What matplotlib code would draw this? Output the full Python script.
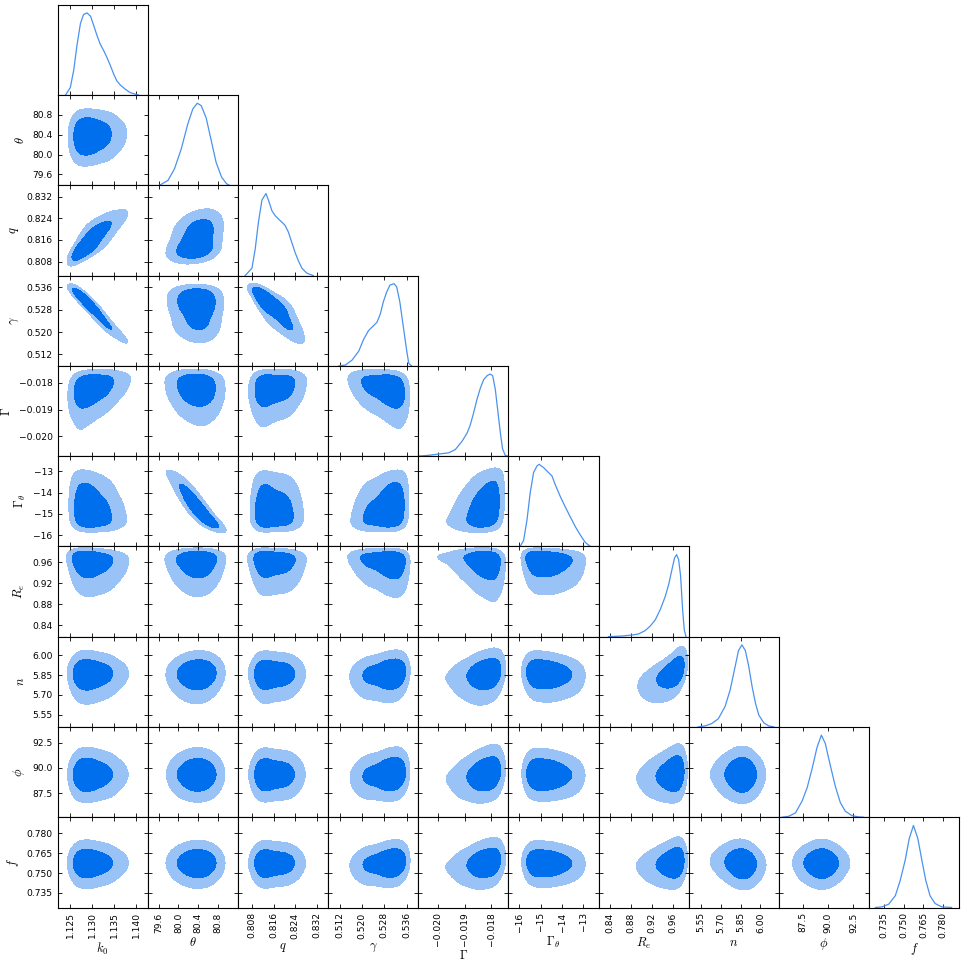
import numpy as np
import matplotlib
matplotlib.use("Agg")
import matplotlib.pyplot as plt

plt.rcParams['mathtext.fontset'] = 'cm'
plt.rcParams['font.family'] = ['DejaVu Sans']

# 1D marginal curves (x value, relative density)
k0_x = [1.1239, 1.1250, 1.1258, 1.1265, 1.1273, 1.1280, 1.1288, 1.1296, 1.1303, 1.1311, 1.1318,
        1.1326, 1.1333, 1.1341, 1.1349, 1.1356, 1.1364, 1.1375, 1.1386, 1.1398, 1.1405]
k0_p = [0.0, 0.09, 0.31, 0.60, 0.87, 0.98, 1.0, 0.96, 0.85, 0.72, 0.62,
        0.54, 0.46, 0.36, 0.25, 0.17, 0.12, 0.07, 0.03, 0.01, 0.0]
theta_x = [79.62, 79.79, 79.92, 80.06, 80.19, 80.29, 80.38, 80.46, 80.56, 80.66, 80.76, 80.87, 80.97, 81.03]
theta_p = [0.0, 0.06, 0.2, 0.45, 0.75, 0.93, 1.0, 0.97, 0.82, 0.55, 0.28, 0.1, 0.02, 0.0]
q_x = [0.8055, 0.8080, 0.8092, 0.8104, 0.8117, 0.8132, 0.8141, 0.8154, 0.8166, 0.8178, 0.8191,
       0.8203, 0.8215, 0.8228, 0.8240, 0.8252, 0.8265, 0.8283, 0.8307]
q_p = [0.0, 0.09, 0.32, 0.65, 0.92, 1.0, 0.92, 0.79, 0.73, 0.69, 0.65,
       0.61, 0.53, 0.40, 0.28, 0.18, 0.09, 0.03, 0.0]
gam_x = [0.5118, 0.5141, 0.5165, 0.5189, 0.5206, 0.5224, 0.5242, 0.5254, 0.5266, 0.5277, 0.5289,
         0.5301, 0.5316, 0.5325, 0.5336, 0.5348, 0.5360, 0.5368, 0.5378]
gam_p = [0.0, 0.01, 0.07, 0.18, 0.32, 0.43, 0.49, 0.53, 0.63, 0.78, 0.90,
         0.985, 1.0, 0.96, 0.78, 0.49, 0.20, 0.03, 0.0]
Gam_x = [-0.02073, -0.02035, -0.01998, -0.01960, -0.01935, -0.01910, -0.01891, -0.01879, -0.01867,
         -0.01854, -0.01841, -0.01829, -0.01816, -0.01804, -0.01795, -0.01785, -0.01775, -0.01766,
         -0.01758, -0.01748, -0.01740]
Gam_p = [0.0, 0.01, 0.025, 0.04, 0.08, 0.18, 0.28, 0.38, 0.52,
         0.69, 0.83, 0.93, 0.98, 1.0, 0.98, 0.81, 0.53, 0.28,
         0.09, 0.01, 0.0]
Gth_x = [-15.97, -15.81, -15.65, -15.50, -15.34, -15.18, -15.08, -14.87, -14.64, -14.48, -14.32,
         -14.09, -13.85, -13.62, -13.38, -13.15, -12.92, -12.68]
Gth_p = [0.0, 0.07, 0.32, 0.65, 0.90, 0.98, 1.0, 0.96, 0.90, 0.86, 0.75,
         0.61, 0.48, 0.36, 0.24, 0.14, 0.05, 0.0]
Re_x = [0.8373, 0.8629, 0.8819, 0.8945, 0.9072, 0.9168, 0.9263, 0.9358, 0.9453, 0.9516, 0.9581,
        0.9630, 0.9669, 0.9707, 0.9745, 0.9783, 0.9815, 0.9848]
Re_p = [0.0, 0.008, 0.02, 0.033, 0.074, 0.13, 0.205, 0.33, 0.49, 0.63, 0.82,
        0.96, 1.0, 0.94, 0.74, 0.33, 0.08, 0.0]
n_x = [5.529, 5.580, 5.632, 5.682, 5.733, 5.771, 5.804, 5.834, 5.860, 5.886, 5.911, 5.937, 5.962,
       5.987, 6.025, 6.063, 6.101]
n_p = [0.0, 0.012, 0.041, 0.10, 0.25, 0.45, 0.70, 0.93, 1.0, 0.93, 0.74, 0.49, 0.29,
       0.145, 0.05, 0.012, 0.0]
phi_x = [85.42, 86.08, 86.74, 87.40, 87.90, 88.39, 88.88, 89.31, 89.70, 90.20, 90.69, 91.19,
         91.68, 92.34, 93.00, 93.49]
phi_p = [0.0, 0.012, 0.053, 0.197, 0.36, 0.59, 0.85, 1.0, 0.90, 0.63, 0.38, 0.18,
         0.074, 0.02, 0.004, 0.0]
f_x = [0.7288, 0.7338, 0.7388, 0.7438, 0.7475, 0.7513, 0.7543, 0.7575, 0.7608, 0.7638, 0.7668,
       0.7700, 0.7738, 0.7788, 0.7863]
f_p = [0.0, 0.008, 0.041, 0.144, 0.33, 0.58, 0.84, 1.0, 0.84, 0.58, 0.33,
       0.144, 0.049, 0.008, 0.0]

names = [r'$k_0$', r'$\theta$', r'$q$', r'$\gamma$', r'$\Gamma$', r'$\Gamma_\theta$',
         r'$R_e$', r'$n$', r'$\phi$', r'$f$']
curves_x = [k0_x, theta_x, q_x, gam_x, Gam_x, Gth_x, Re_x, n_x, phi_x, f_x]
curves_p = [k0_p, theta_p, q_p, gam_p, Gam_p, Gth_p, Re_p, n_p, phi_p, f_p]

limits = [(1.1221, 1.1426), (79.38, 81.2), (0.8028, 0.8362), (0.5079, 0.5402),
          (-0.02074, -0.01736), (-16.52, -12.29), (0.8185, 0.990), (5.459, 6.139),
          (85.1, 94.05), (0.7240, 0.7921)]

tick_vals = [[1.125, 1.130, 1.135, 1.140], [79.6, 80.0, 80.4, 80.8], [0.808, 0.816, 0.824, 0.832],
             [0.512, 0.520, 0.528, 0.536], [-0.020, -0.019, -0.018], [-16, -15, -14, -13],
             [0.84, 0.88, 0.92, 0.96], [5.55, 5.70, 5.85, 6.00], [87.5, 90.0, 92.5],
             [0.735, 0.750, 0.765, 0.780]]
tick_text = [['1.125', '1.130', '1.135', '1.140'], ['79.6', '80.0', '80.4', '80.8'],
             ['0.808', '0.816', '0.824', '0.832'], ['0.512', '0.520', '0.528', '0.536'],
             ['\u22120.020', '\u22120.019', '\u22120.018'], ['\u221216', '\u221215', '\u221214', '\u221213'],
             ['0.84', '0.88', '0.92', '0.96'], ['5.55', '5.70', '5.85', '6.00'],
             ['87.5', '90.0', '92.5'], ['0.735', '0.750', '0.765', '0.780']]

# correlation of each pair (row parameter vs column parameter), lower triangle
rho_rows = [
    [],
    [0.05],
    [0.85, 0.30],
    [-0.99, -0.05, -0.85],
    [0.30, -0.10, 0.15, -0.30],
    [-0.15, -0.93, -0.05, 0.20, 0.30],
    [-0.10, 0.0, -0.05, -0.15, -0.20, -0.10],
    [0.0, 0.05, 0.0, 0.15, 0.25, -0.10, 0.60],
    [0.0, 0.0, 0.0, 0.15, 0.25, -0.05, 0.20, 0.0],
    [0.0, 0.0, 0.0, 0.15, 0.25, -0.05, 0.20, -0.10, 0.0],
]

dark = '#006FED'
light = '#99C3F6'
line_c = '#4A92F0'

# table for the inverse normal cdf
z_tab = np.linspace(-6, 6, 4001)
cdf_tab = np.cumsum(np.exp(-0.5 * z_tab ** 2))
cdf_tab = cdf_tab / cdf_tab[-1]

# small gaussian kernel to smooth the density grid (like a KDE would)
ks = np.arange(-20, 21)
kern = np.exp(-0.5 * (ks / 6.5) ** 2)
kern = kern / kern.sum()


def marginal(grid, xs, ps):
    pdf = np.interp(grid, xs, ps, left=0, right=0)
    cdf = (np.cumsum(pdf) - 0.5 * pdf) / pdf.sum()
    z = np.interp(np.clip(cdf, 1e-9, 1 - 1e-9), cdf_tab, z_tab)
    return pdf, z


def joint(i, j, rho, ng=240):
    gx = np.linspace(limits[j][0], limits[j][1], ng)
    gy = np.linspace(limits[i][0], limits[i][1], ng)
    px, zx = marginal(gx, curves_x[j], curves_p[j])
    py, zy = marginal(gy, curves_x[i], curves_p[i])
    ZX, ZY = np.meshgrid(zx, zy)
    r2 = 1 - rho ** 2
    logc = -(rho ** 2 * (ZX ** 2 + ZY ** 2) - 2 * rho * ZX * ZY) / (2 * r2) - 0.5 * np.log(r2)
    P = np.outer(py, px) * np.exp(np.clip(logc, -60, 40))
    P = np.apply_along_axis(lambda v: np.convolve(v, kern, mode='same'), 0, P)
    P = np.apply_along_axis(lambda v: np.convolve(v, kern, mode='same'), 1, P)
    return gx, gy, P


npar = len(names)
fig, axes = plt.subplots(npar, npar, figsize=(9.64, 9.64), dpi=100)
fig.subplots_adjust(left=0.0597, right=0.9951, top=0.9951, bottom=0.0586, wspace=0, hspace=0)

for i in range(npar):
    for j in range(npar):
        ax = axes[i, j]
        if j > i:
            ax.axis('off')
            continue
        for s in ax.spines.values():
            s.set_linewidth(0.8)
        ax.tick_params(which='both', direction='in', top=True, right=True, length=3, width=0.6,
                       labelsize=6.6, labelbottom=False, labelleft=False)
        ax.set_xlim(limits[j])
        ax.set_xticks(tick_vals[j])
        if i == j:
            ax.plot(curves_x[i], curves_p[i], color=line_c, lw=0.9)
            ax.set_ylim(0, 1.1)
            ax.set_yticks([])
        else:
            gx, gy, P = joint(i, j, rho_rows[i][j])
            flat = np.sort(P.ravel())[::-1]
            cum = np.cumsum(flat) / flat.sum()
            t68 = flat[np.searchsorted(cum, 0.68)]
            t95 = flat[np.searchsorted(cum, 0.95)]
            ax.contourf(gx, gy, P, levels=[t95, t68, P.max() * 1.01], colors=[light, dark])
            ax.set_ylim(limits[i])
            ax.set_yticks(tick_vals[i])
            if j == 0:
                ax.tick_params(labelleft=True)
                ax.set_yticklabels(tick_text[i])
                ax.set_ylabel(names[i], fontsize=9)
        if i == npar - 1:
            ax.tick_params(labelbottom=True)
            ax.set_xticklabels(tick_text[j], rotation=90)
            ax.set_xlabel(names[j], fontsize=9, labelpad=2)

fig.savefig('out.png', dpi=100)
